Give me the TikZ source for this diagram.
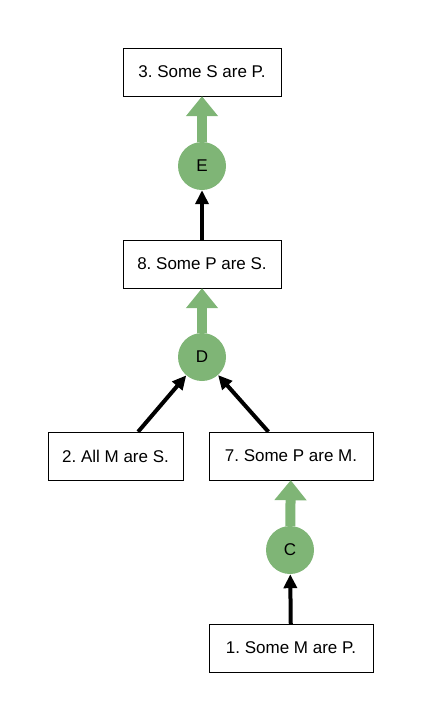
\documentclass[tikz,border=0pt]{standalone}
\usepackage{fontspec}
\setmainfont{Liberation Sans}
\usepackage{xcolor}
\usetikzlibrary{arrows.meta}

\definecolor{rulegreen}{RGB}{127,181,118}
\frenchspacing

\begin{document}
\begin{tikzpicture}[
    x=1pt, y=-1pt,
    box/.style={rectangle, draw=black, fill=white, thin, minimum height=48pt, text centered, font=\fontsize{17}{20}\selectfont},
    rule/.style={circle, fill=rulegreen, minimum size=48pt, inner sep=0pt, font=\fontsize{17}{20}\selectfont},
    premise/.style={-{Triangle[length=14pt, width=13pt]}, line width=4pt, black},
    conclude/.style={-{Triangle[length=20pt, width=31pt]}, line width=10pt, rulegreen}
]

% 边界
\useasboundingbox (0,0) rectangle (421,720);

% 结论
\node[box, minimum width=158pt] (s3) at (202,72) {3. Some S are P.};
\node[rule] (e) at (202,166) {E};

\node[box, minimum width=158pt] (s8) at (202,264) {8. Some P are S.};
\node[rule] (d) at (202,357) {D};

% 前提
\node[box, minimum width=135pt] (s2) at (115.5,456) {2. All M are S.};
\node[box, minimum width=164pt] (s7) at (291,456) {7. Some P are M.};
\node[rule] (c) at (290,550) {C};

\node[box, minimum width=164pt] (s1) at (291,648) {1. Some M are P.};

% 前提箭头 (黑色)
\draw[premise] (s8) -- (e);
\draw[premise] (s2.47) -- (d);
\draw[premise] (s7.133) -- (d);
\draw[premise] (s1) -- (c);

% 结论箭头 (绿色)
\draw[conclude] (e) -- (s3);
\draw[conclude] (d) -- (s8);
\draw[conclude] (c) -- (s7);

\end{tikzpicture}
\end{document}
